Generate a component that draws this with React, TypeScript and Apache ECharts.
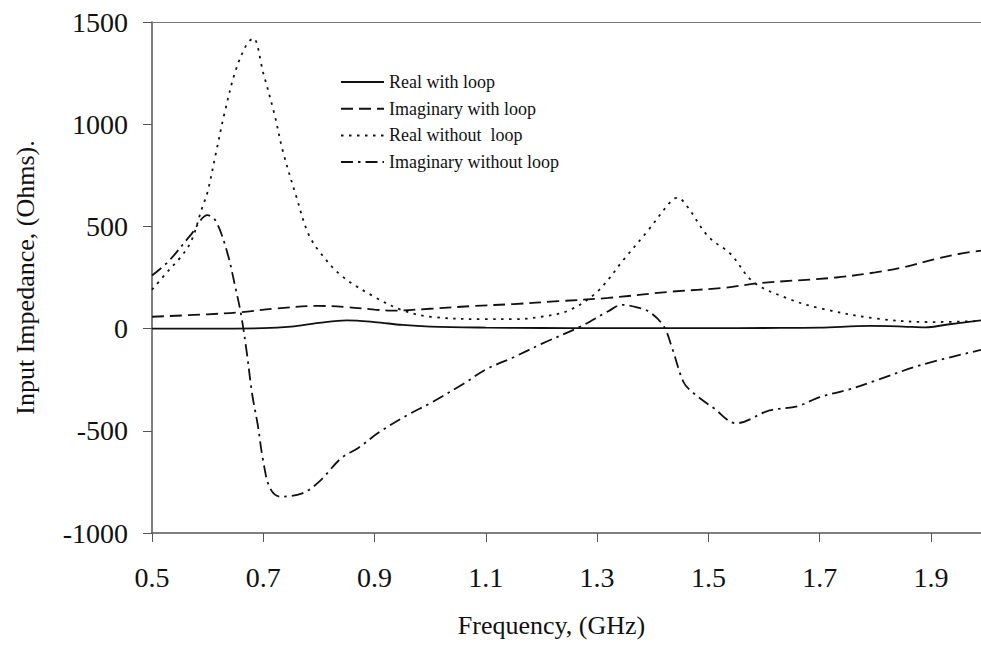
import React, { useEffect, useRef } from "react";
import * as echarts from "echarts";

const xTicks = [0.5, 0.7, 0.9, 1.1, 1.3, 1.5, 1.7, 1.9];
const yTicks = [-1000, -500, 0, 500, 1000, 1500];

const seriesNames = [
  "Real with loop",
  "Imaginary with loop",
  "Real without  loop",
  "Imaginary without loop",
];

const realWithLoop: [number, number][] = [
  [0.5, 0], [0.6, 0], [0.7, 2], [0.75, 10], [0.8, 28], [0.85, 40], [0.9, 32],
  [0.95, 18], [1.0, 10], [1.1, 5], [1.2, 3], [1.3, 2], [1.4, 2], [1.5, 2],
  [1.6, 3], [1.7, 5], [1.79, 13], [1.85, 10], [1.89, 6], [1.93, 20], [1.99, 40],
];

const imagWithLoop: [number, number][] = [
  [0.5, 58], [0.6, 70], [0.66, 80], [0.72, 98], [0.8, 111], [0.85, 105], [0.9, 93],
  [0.93, 88], [1.0, 97], [1.08, 111], [1.15, 120], [1.23, 134], [1.32, 150],
  [1.43, 180], [1.53, 200], [1.59, 222], [1.73, 250], [1.8, 275], [1.85, 300],
  [1.91, 342], [1.95, 365], [1.99, 382],
];

const realWithoutLoop: [number, number][] = [
  [0.5, 190], [0.53, 285], [0.55, 345], [0.57, 425], [0.59, 590], [0.6, 670],
  [0.615, 860], [0.63, 1050], [0.65, 1260], [0.67, 1390], [0.682, 1420],
  [0.7, 1250], [0.72, 1050], [0.735, 870], [0.76, 640], [0.78, 470], [0.8, 380],
  [0.84, 260], [0.9, 155], [0.95, 90], [1.0, 58], [1.1, 46], [1.15, 46],
  [1.2, 58], [1.25, 90], [1.3, 180], [1.35, 345], [1.39, 475], [1.435, 630],
  [1.445, 640], [1.46, 605], [1.5, 450], [1.54, 365], [1.58, 230], [1.64, 150],
  [1.7, 100], [1.8, 50], [1.9, 32], [1.99, 37],
];

const imagWithoutLoop: [number, number][] = [
  [0.5, 260], [0.53, 330], [0.57, 460], [0.6, 555], [0.615, 525], [0.635, 375],
  [0.65, 200], [0.66, 70], [0.67, -110], [0.68, -320], [0.69, -470], [0.7, -650],
  [0.712, -780], [0.73, -822], [0.77, -806], [0.8, -750], [0.84, -634],
  [0.87, -585], [0.91, -504], [0.96, -422], [1.0, -365], [1.06, -270],
  [1.1, -200], [1.15, -140], [1.2, -75], [1.27, 10], [1.32, 85], [1.345, 116],
  [1.37, 105], [1.395, 80], [1.42, 10], [1.435, -96], [1.455, -260],
  [1.47, -308], [1.51, -390], [1.55, -463], [1.61, -400], [1.66, -380],
  [1.7, -335], [1.75, -300], [1.8, -255], [1.88, -180], [1.99, -104],
];

const seriesData = [realWithLoop, imagWithLoop, realWithoutLoop, imagWithoutLoop];
const dashTypes: any[] = ["solid", [12, 6], [2.5, 5.5], [12, 5, 2.5, 5]];

const FONT = "'Liberation Serif', 'Times New Roman', serif";
const INK = "#111";

export default function App() {
  const ref = useRef<HTMLDivElement>(null);
  useEffect(() => {
    if (!ref.current) return;
    const chart = echarts.init(ref.current, undefined, { renderer: "svg" });
    chart.setOption({
      animation: false,
      backgroundColor: "#fff",
      grid: { left: 152, top: 22, right: 0, bottom: 115 },
      legend: {
        orient: "vertical",
        left: 340,
        top: 72,
        padding: 0,
        itemWidth: 43,
        itemHeight: 14,
        itemGap: 6.7,
        itemStyle: { opacity: 0 },
        textStyle: { fontFamily: FONT, fontSize: 18, color: INK, lineHeight: 20 },
        data: seriesNames,
      },
      xAxis: [
        {
          type: "value",
          min: 0.5,
          max: 1.99,
          interval: 0.2,
          name: "Frequency, (GHz)",
          nameLocation: "middle",
          nameGap: 79,
          nameTextStyle: { fontFamily: FONT, fontSize: 26, color: INK, padding: [0, 30, 0, 0] },
          axisLine: { show: true, onZero: false, lineStyle: { color: "#555", width: 1.5 } },
          axisTick: { show: true, length: 9, inside: false, lineStyle: { color: "#555" }, customValues: xTicks },
          axisLabel: {
            fontFamily: FONT, fontSize: 28, color: INK, margin: 30,
            customValues: xTicks,
            formatter: (v: number) => v.toFixed(1),
          },
          splitLine: { show: false },
        },
        {
          type: "value",
          position: "top",
          min: 0.5,
          max: 1.99,
          axisLine: { show: true, onZero: false, lineStyle: { color: "#777", width: 1.2 } },
          axisTick: { show: false },
          axisLabel: { show: false },
          splitLine: { show: false },
        },
      ],
      yAxis: {
        type: "value",
        min: -1000,
        max: 1500,
        interval: 500,
        name: "Input Impedance, (Ohms).",
        nameLocation: "middle",
        nameGap: 114,
        nameTextStyle: { fontFamily: FONT, fontSize: 26, color: INK },
        axisLine: { show: true, onZero: false, lineStyle: { color: "#555", width: 1.5 } },
        axisTick: { show: true, length: 9, inside: false, lineStyle: { color: "#555" } },
        axisLabel: {
          fontFamily: FONT, fontSize: 28, color: INK, margin: 24,
          customValues: yTicks,
          formatter: (v: number) => String(v),
        },
        splitLine: { show: false },
      },
      series: seriesData.map((d, i) => ({
        name: seriesNames[i],
        type: "line",
        data: d,
        xAxisIndex: 0,
        symbol: "none",
        smooth: 0.35,
        lineStyle: { color: INK, width: 1.8, type: dashTypes[i] },
        itemStyle: { color: INK },
      })),
    });
    return () => chart.dispose();
  }, []);
  return (
    <div
      ref={ref}
      style={{ position: "absolute", left: 0, top: 0, width: 981, height: 648 }}
    />
  );
}
